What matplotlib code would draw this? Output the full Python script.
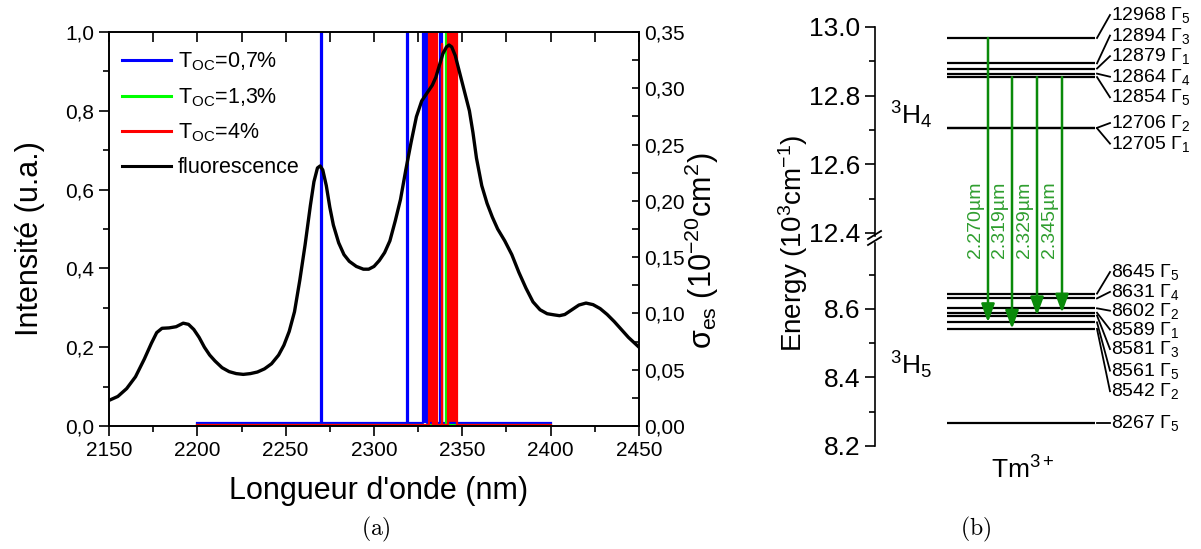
import numpy as np
import matplotlib
matplotlib.use("Agg")
import matplotlib.pyplot as plt
from matplotlib.ticker import MultipleLocator, FuncFormatter
from matplotlib.patches import ConnectionPatch
from matplotlib.lines import Line2D

plt.rcParams['font.family'] = ['Liberation Sans', 'DejaVu Sans']
plt.rcParams['mathtext.fontset'] = 'custom'
plt.rcParams['mathtext.rm'] = 'Liberation Sans'
plt.rcParams['mathtext.it'] = 'Liberation Sans:italic'
plt.rcParams['mathtext.bf'] = 'Liberation Sans:bold'

# ---- (a) fluorescence spectrum (normalised)
fluo_wl = [2150, 2155, 2160, 2165, 2170, 2174, 2177, 2180, 2184, 2188, 2192, 2195, 2198,
           2201, 2204, 2207, 2210, 2214, 2218, 2222, 2226, 2230, 2234, 2238, 2242, 2246,
           2249, 2252, 2255, 2258, 2261, 2264, 2266, 2268, 2269.5, 2271, 2273, 2275, 2277,
           2280, 2283, 2286, 2290, 2294, 2297, 2300, 2303, 2306, 2309, 2312, 2315, 2318,
           2321, 2324, 2327, 2330, 2333, 2335, 2337, 2339, 2341, 2342.5, 2344, 2346, 2348,
           2350, 2352, 2354, 2356, 2358, 2361, 2364, 2367, 2370, 2374, 2378, 2382, 2386,
           2390, 2394, 2398, 2402, 2405, 2408, 2412, 2416, 2420, 2424, 2428, 2432, 2436,
           2440, 2444, 2450]
fluo_int = [0.065, 0.075, 0.095, 0.125, 0.17, 0.21, 0.237, 0.248, 0.249, 0.252, 0.261, 0.258, 0.245,
            0.225, 0.20, 0.18, 0.165, 0.148, 0.138, 0.133, 0.131, 0.133, 0.137, 0.145, 0.158, 0.18,
            0.205, 0.24, 0.29, 0.37, 0.46, 0.56, 0.62, 0.655, 0.66, 0.65, 0.61, 0.555, 0.51,
            0.465, 0.435, 0.418, 0.405, 0.398, 0.398, 0.405, 0.42, 0.44, 0.47, 0.52, 0.575, 0.65,
            0.72, 0.785, 0.825, 0.845, 0.865, 0.885, 0.915, 0.945, 0.962, 0.967, 0.962, 0.94, 0.905,
            0.87, 0.835, 0.80, 0.745, 0.68, 0.61, 0.565, 0.53, 0.50, 0.47, 0.435, 0.39, 0.35,
            0.315, 0.295, 0.285, 0.282, 0.28, 0.283, 0.295, 0.307, 0.312, 0.308, 0.298, 0.283, 0.265,
            0.245, 0.225, 0.20]

# laser emission lines: (start nm, end nm, relative intensity)
laser_range = [2200, 2400]
blue_bands = [(2270.2, 2270.6, 1.0), (2318.6, 2319.1, 1.0), (2327.9, 2330.2, 1.0), (2337.2, 2338.4, 1.0)]
green_bands = [(2340.6, 2341.8, 1.0)]
red_bands = [(2331.2, 2333.5, 1.0), (2333.5, 2334.4, 0.26), (2334.4, 2335.5, 1.0),
             (2338.5, 2338.7, 0.97), (2342.0, 2347.2, 1.0)]
laser_labels = ["T$_{\\mathrm{OC}}$=0,7%", "T$_{\\mathrm{OC}}$=1,3%", "T$_{\\mathrm{OC}}$=4%"]

# ---- (b) Tm3+ energy levels (cm-1)
h4_levels = [12968, 12894, 12879, 12864, 12854, 12706, 12705]
h4_gamma = [5, 3, 1, 4, 5, 2, 1]
h5_levels = [8645, 8631, 8602, 8589, 8581, 8561, 8542, 8267]
h5_gamma = [5, 4, 2, 1, 3, 5, 2, 5]
trans_from = [12968, 12854, 12854, 12854]
trans_to = [8561, 8542, 8581, 8589]
trans_labels = ["2.270µm", "2.319µm", "2.329µm", "2.345µm"]


def spectrum(bands, base):
    wl = [laser_range[0]]
    it = [base]
    for s, e, h in bands:
        wl += [s, s, e, e]
        it += [base, h, h, base]
    wl.append(laser_range[1])
    it.append(base)
    return wl, it


W, H = 1201, 549
fig = plt.figure(figsize=(W / 100, H / 100), dpi=100)

# ================= panel (a)
ax = fig.add_axes([109 / W, 1 - 426 / H, 530 / W, 394 / H])
for bands, col, base, lab in [(blue_bands, "#0000ff", 0.007, laser_labels[0]),
                              (green_bands, "#00ff00", 0.003, laser_labels[1]),
                              (red_bands, "#ff0000", 0.003, laser_labels[2])]:
    wl, it = spectrum(bands, base)
    ax.fill_between(wl, base, it, color=col, lw=0)
    ax.plot(wl, it, color=col, lw=1.6, label=lab)
ax.plot(fluo_wl, fluo_int, color="black", lw=2.4, label="fluorescence")

ax.set_xlim(2150, 2450)
ax.set_ylim(0, 1.0)
ax.xaxis.set_major_locator(MultipleLocator(50))
ax.xaxis.set_minor_locator(MultipleLocator(25))
ax.yaxis.set_major_locator(MultipleLocator(0.2))
ax.yaxis.set_minor_locator(MultipleLocator(0.1))
ax.yaxis.set_major_formatter(FuncFormatter(lambda v, p: f"{v:.1f}".replace('.', ',')))
ax.tick_params(which='both', direction='out', labelsize=15, width=1.2)
ax.tick_params(which='major', length=7)
ax.tick_params(which='minor', length=4)
ax.tick_params(axis='x', which='both', top=True, right=False)
for sp in ax.spines.values():
    sp.set_linewidth(1.2)
# top ticks point inwards
for t in ax.xaxis.get_major_ticks() + ax.xaxis.get_minor_ticks():
    t.tick2line.set_marker(matplotlib.lines.TICKDOWN)
    t.tick2line.set_markersize(7)
ax.set_xlabel("Longueur d'onde (nm)", fontsize=22)
ax.set_ylabel("Intensité (u.a.)", fontsize=22)
ax.xaxis.set_label_coords(0.508, -0.127)
ax.yaxis.set_label_coords(-0.121, 0.475)

leg = ax.legend(loc='upper left', bbox_to_anchor=(0.0, 0.985), frameon=False, fontsize=15.5,
                handlelength=2.3, handletextpad=0.3, labelspacing=0.6, borderaxespad=0.2)
for h in leg.get_lines():
    h.set_linewidth(2.2)

ax2 = ax.twinx()
ax2.set_ylim(0, 0.35)
ax2.yaxis.set_major_locator(MultipleLocator(0.05))
ax2.yaxis.set_minor_locator(MultipleLocator(0.025))
ax2.yaxis.set_major_formatter(FuncFormatter(lambda v, p: f"{v:.2f}".replace('.', ',')))
ax2.tick_params(which='both', direction='in', labelsize=15, width=1.2, length=5)
for sp in ax2.spines.values():
    sp.set_linewidth(1.2)
ax2.set_ylabel("σ$_{\\mathrm{es}}$ (10$^{-20}$cm$^{2}$)", fontsize=22)
ax2.yaxis.set_label_coords(1.083, 0.444)

fig.text(376 / W, 1 - 529 / H, r"$\mathrm{(a)}$", math_fontfamily='cm', fontsize=17,
         ha='center', va='center')

# ================= panel (b)
x0, wpx = 875, 320
ax_up = fig.add_axes([x0 / W, 1 - 236 / H, wpx / W, 209 / H])
ax_lo = fig.add_axes([x0 / W, 1 - 446 / H, wpx / W, 203 / H])
ax_up.set_ylim(13.0 - 209 / 343, 13.0)
ax_lo.set_ylim(8.2, 8.2 + 203 / 342.5)
for a in (ax_up, ax_lo):
    a.set_xlim(0, wpx)
    a.set_xticks([])
    for s in ('top', 'right', 'bottom'):
        a.spines[s].set_visible(False)
    a.spines['left'].set_linewidth(1.2)
    a.yaxis.set_major_locator(MultipleLocator(0.2))
    a.yaxis.set_minor_locator(MultipleLocator(0.1))
    a.yaxis.set_major_formatter(FuncFormatter(lambda v, p: f"{v:.1f}"))
    a.tick_params(which='both', direction='out', labelsize=19, width=1.2)
    a.tick_params(which='major', length=7)
    a.tick_params(which='minor', length=4)
    a.patch.set_alpha(0)

lev_x0, lev_x1 = 72, 220
h4_label_y = [13.035, 12.975, 12.915, 12.855, 12.795, 12.72, 12.66]
h5_label_y = [8.708, 8.65, 8.595, 8.54, 8.483, 8.42, 8.36, 8.267]
for a, levels, gam, ly in [(ax_up, h4_levels, h4_gamma, h4_label_y),
                           (ax_lo, h5_levels, h5_gamma, h5_label_y)]:
    e = np.array(levels) / 1000
    a.hlines(e, lev_x0, lev_x1, color='black', lw=1.6)
    for ei, g, yy, v in zip(e, gam, ly, levels):
        a.plot([lev_x1 + 2, lev_x1 + 15], [ei, yy], color='black', lw=1.3, clip_on=False)
        a.text(lev_x1 + 16, yy, f"{v} Γ$_{g}$", fontsize=14, ha='left', va='center')

ax_up.text(36, 12.743, "$^3$H$_4$", fontsize=19, ha='center', va='center')
ax_lo.text(36, 8.436, "$^3$H$_5$", fontsize=19, ha='center', va='center')
ax_lo.text(148, 8.13, "Tm$^{3+}$", fontsize=19, ha='center', va='center')
fig.text(793 / W, 1 - 243 / H, "Energy (10$^3$cm$^{-1}$)", fontsize=20, rotation=90,
         ha='center', va='center')

arrow_x = [113, 137, 162, 187]
for xa, e0, e1, lab in zip(arrow_x, trans_from, trans_to, trans_labels):
    con = ConnectionPatch(xyA=(xa, e0 / 1000), coordsA="data", axesA=ax_up,
                          xyB=(xa, e1 / 1000), coordsB="data", axesB=ax_lo,
                          arrowstyle="-|>,head_length=0.55,head_width=0.2",
                          mutation_scale=20, color="#0a8a0a", lw=1.8,
                          shrinkA=0, shrinkB=0)
    fig.add_artist(con)
    ax_up.text(xa - 4, 13.0 - 193 / 343, lab, rotation=90, fontsize=14, color="#2f9e2f",
               ha='right', va='center')

# axis break marks
for dy in (0, 6):
    fig.add_artist(Line2D([868 / W, 881 / W], [1 - (239 + dy) / H, 1 - (231 + dy) / H],
                          color='black', lw=1.3))

fig.text(976 / W, 1 - 529 / H, r"$\mathrm{(b)}$", math_fontfamily='cm', fontsize=17,
         ha='center', va='center')

fig.savefig("out.png", dpi=100)
